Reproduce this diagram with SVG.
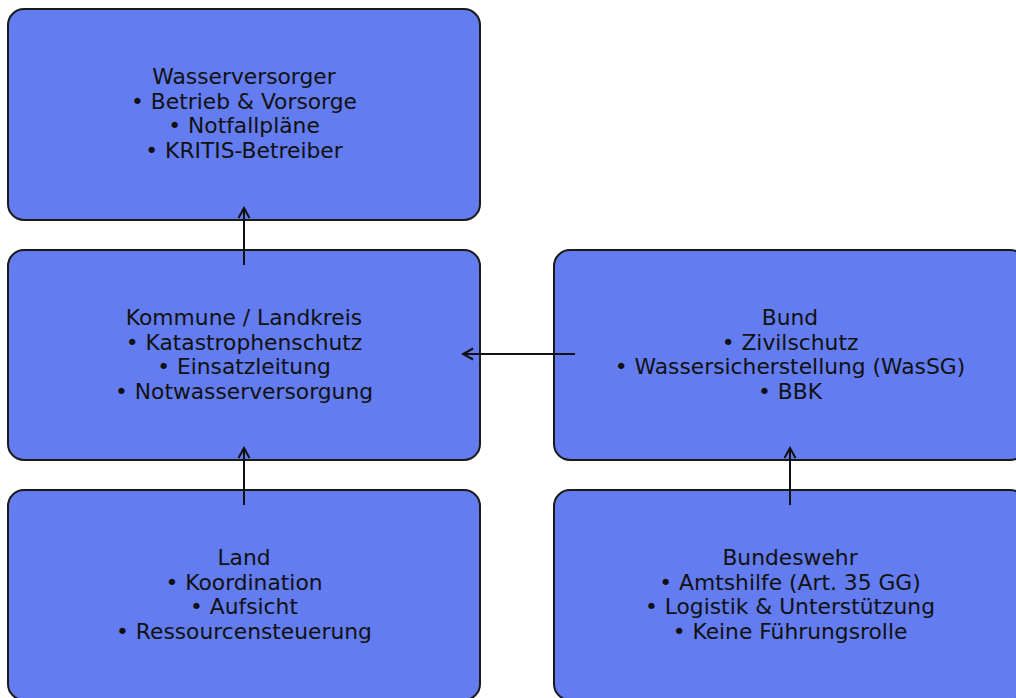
<svg xmlns="http://www.w3.org/2000/svg" width="1016" height="698" viewBox="0 0 1016 698">
<defs>
<marker id="arr" markerWidth="14" markerHeight="14" refX="12" refY="7" orient="auto" markerUnits="userSpaceOnUse">
<path d="M2,1.5 L12,7 L2,12.5" fill="none" stroke="#111" stroke-width="2"/>
</marker>
</defs>
<style>
.box{fill:#637CEF;stroke:#1a1a1a;stroke-width:2}
.t{font-family:"DejaVu Sans","Liberation Sans",sans-serif;font-size:21.8px;fill:#111;text-anchor:middle}
.c{stroke:#111;stroke-width:2;fill:none;marker-end:url(#arr)}
</style>
<rect width="1016" height="698" fill="#fff"/>
<g id="wasserversorger">
<rect class="box" x="8" y="9" width="472" height="211" rx="16"/>
<text class="t" x="244" y="84">Wasserversorger</text>
<text class="t" x="244" y="108.5">• Betrieb &amp; Vorsorge</text>
<text class="t" x="244" y="133">• Notfallpläne</text>
<text class="t" x="244" y="157.5">• KRITIS-Betreiber</text>
</g>
<g id="kommune">
<rect class="box" x="8" y="250" width="472" height="210" rx="16"/>
<text class="t" x="244" y="325">Kommune / Landkreis</text>
<text class="t" x="244" y="349.5">• Katastrophenschutz</text>
<text class="t" x="244" y="374">• Einsatzleitung</text>
<text class="t" x="244" y="398.5">• Notwasserversorgung</text>
</g>
<g id="land">
<rect class="box" x="8" y="490" width="472" height="210" rx="16"/>
<text class="t" x="244" y="565">Land</text>
<text class="t" x="244" y="589.5">• Koordination</text>
<text class="t" x="244" y="614">• Aufsicht</text>
<text class="t" x="244" y="638.5">• Ressourcensteuerung</text>
</g>
<g id="bund">
<rect class="box" x="554" y="250" width="472" height="210" rx="16"/>
<text class="t" x="790" y="325">Bund</text>
<text class="t" x="790" y="349.5">• Zivilschutz</text>
<text class="t" x="790" y="374">• Wassersicherstellung (WasSG)</text>
<text class="t" x="790" y="398.5">• BBK</text>
</g>
<g id="bundeswehr">
<rect class="box" x="554" y="490" width="472" height="210" rx="16"/>
<text class="t" x="790" y="565">Bundeswehr</text>
<text class="t" x="790" y="589.5">• Amtshilfe (Art. 35 GG)</text>
<text class="t" x="790" y="614">• Logistik &amp; Unterstützung</text>
<text class="t" x="790" y="638.5">• Keine Führungsrolle</text>
</g>
<g id="connectors">
<line class="c" x1="244" y1="265" x2="244" y2="208"/>
<line class="c" x1="244" y1="505" x2="244" y2="448"/>
<line class="c" x1="790" y1="505" x2="790" y2="448"/>
<line class="c" x1="575" y1="354" x2="463" y2="354"/>
</g>
</svg>
